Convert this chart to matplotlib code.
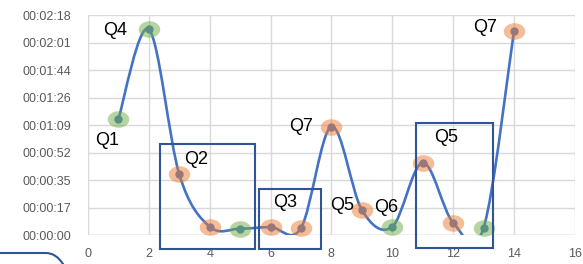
import numpy as np
import matplotlib
matplotlib.use('Agg')
import matplotlib.pyplot as plt
from matplotlib.path import Path
from matplotlib.patches import PathPatch, Rectangle
from matplotlib.transforms import IdentityTransform, Affine2D

# data (seconds)
x = [1, 2, 3, 4, 5, 6, 7, 8, 9, 10, 11, 12, 13, 14]
secs = [73, 129, 38, 5.2, 4, 5, 4.4, 68, 15.7, 5.2, 45.4, 7.7, 4.4, 128]
kind = ['g', 'g', 'o', 'o', 'g', 'o', 'o', 'o', 'o', 'g', 'o', 'o', 'g', 'o']

labels = ['Q4', 'Q1', 'Q2', 'Q3', 'Q7', 'Q5', 'Q6', 'Q5', 'Q7']
label_xy = [(0.89, 128), (0.62, 59), (3.55, 47.5), (6.48, 20.7), (7.0, 67.8),
            (8.36, 18.8), (9.8, 17), (11.78, 61), (13.06, 130)]

yticks = np.arange(0, 139, 17.25)

def hms(s):
    s = int(np.floor(s + 0.5))
    return '%02d:%02d:%02d' % (s // 3600, (s % 3600) // 60, s % 60)

plt.rcParams['font.family'] = 'Liberation Sans'

fig = plt.figure(figsize=(5.83, 2.64), dpi=100)
ax = fig.add_axes([0.151, 0.1098, 0.835, 0.8333])
ax.set_xlim(0, 16)
ax.set_ylim(0, 138)
ax.set_xticks(range(0, 17, 2))
ax.set_yticks(yticks)
ax.set_yticklabels([hms(v) for v in yticks])
ax.grid(True, color='#d9d9d9', lw=1)
ax.set_axisbelow(True)
for s in ax.spines.values():
    s.set_visible(False)
ax.axhline(0, color='#d9d9d9', lw=1, zorder=1)
ax.tick_params(length=0, labelsize=9, colors='#595959')
ax.tick_params(axis='y', pad=12)
ax.tick_params(axis='x', pad=9)

# smoothed line (Bezier like Excel)
P = np.column_stack([x, secs]).astype(float)
n = len(P)
verts = [P[0]]
codes = [Path.MOVETO]
for i in range(n - 1):
    p0 = P[max(i - 1, 0)]
    p1 = P[i]
    p2 = P[i + 1]
    p3 = P[min(i + 2, n - 1)]
    verts += [p1 + (p2 - p0) / 6, p2 - (p3 - p1) / 6, p2]
    codes += [Path.CURVE4] * 3
ax.add_patch(PathPatch(Path(verts, codes), fill=False, ec='#4472c4', lw=1.9, zorder=3,
                       capstyle='round'))
ax.plot(x, secs, 'o', color='#4472c4', ms=5, zorder=4)

ell = Path.unit_circle().transformed(Affine2D().scale(1, 0.77))
cols = {'g': '#70ad47', 'o': '#ed7d31'}
for k in 'go':
    xs = [a for a, c in zip(x, kind) if c == k]
    ys = [b for b, c in zip(secs, kind) if c == k]
    ax.scatter(xs, ys, marker=ell, s=240, color=cols[k], alpha=0.5, lw=0, zorder=5,
               clip_on=False)

for t, (lx, ly) in zip(labels, label_xy):
    ax.text(lx, ly, t, fontsize=13, color='#000000', ha='center', va='center', zorder=6)

# boxes
boxes = [(2.37, -8.8, 3.12, 65.9), (5.63, -8.8, 2.03, 37.7), (10.79, -8.3, 2.53, 78.6)]
for bx, by, bw, bh in boxes:
    ax.add_patch(Rectangle((bx, by), bw, bh, fill=False, ec='#2f5597', lw=1.5,
                           clip_on=False, zorder=7))

# partial rounded shape at bottom-left (pixel coords)
shape = Path([(-5, 11), (46, 11), (56, 11), (63, 0), (64, -5)],
             [Path.MOVETO, Path.LINETO, Path.CURVE3, Path.CURVE3, Path.LINETO])
fig.add_artist(PathPatch(shape, fill=False, ec='#2f5597', lw=1.5, transform=IdentityTransform()))

fig.savefig('out.png', dpi=100)
